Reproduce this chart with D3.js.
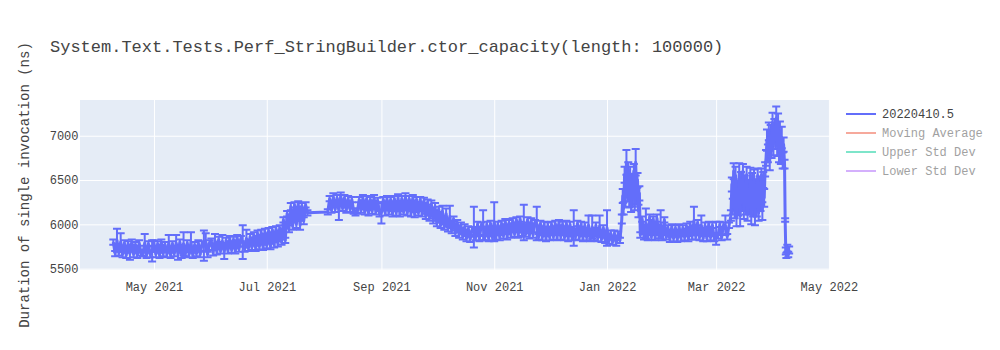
<!DOCTYPE html>
<html>
<head>
<meta charset="utf-8">
<script src="https://cdn.jsdelivr.net/npm/d3@7"></script>
<style>
  body { margin: 0; background: #fff; }
  svg { display: block; }
</style>
</head>
<body>
<div id="container"></div>
<script>
/* CONSTANTS AND GLOBALS */
const width = 1000,
  height = 350,
  margin = { top: 100, bottom: 80, left: 80, right: 170 };
const FONT = "'Liberation Mono', 'Courier New', monospace";
const TEXT = "#444";

/* DATA */
const chartTitle = "System.Text.Tests.Perf_StringBuilder.ctor_capacity(length: 100000)";
const yTitle = "Duration of single invocation (ns)";
const legendNames = ["20220410.5", "Moving Average", "Upper Std Dev", "Lower Std Dev"];
const yTicks = [5500, 6000, 6500, 7000];
const xRange = ["2021-03-22", "2022-05-01T14:00"];
const yRange = [5485, 7403];

const runDates = [
  // Apr 2021
  "2021-04-09","2021-04-10","2021-04-11","2021-04-12","2021-04-13","2021-04-14","2021-04-15","2021-04-16","2021-04-17","2021-04-18",
  "2021-04-19","2021-04-20","2021-04-21","2021-04-22","2021-04-23","2021-04-24","2021-04-25","2021-04-26","2021-04-27","2021-04-28",
  "2021-04-29","2021-04-30",
  // May 2021
  "2021-05-01","2021-05-02","2021-05-03","2021-05-04","2021-05-05","2021-05-06","2021-05-07","2021-05-08","2021-05-09","2021-05-10",
  "2021-05-11","2021-05-12","2021-05-13","2021-05-14","2021-05-15","2021-05-16","2021-05-17","2021-05-18","2021-05-19","2021-05-20",
  "2021-05-21","2021-05-22","2021-05-23","2021-05-24","2021-05-25","2021-05-26","2021-05-27","2021-05-28","2021-05-29","2021-05-30",
  "2021-05-31",
  // Jun 2021
  "2021-06-01","2021-06-02","2021-06-03","2021-06-04","2021-06-05","2021-06-06","2021-06-07","2021-06-08","2021-06-09","2021-06-10",
  "2021-06-11","2021-06-12","2021-06-13","2021-06-14","2021-06-15","2021-06-16","2021-06-17","2021-06-18","2021-06-19","2021-06-20",
  "2021-06-21","2021-06-22","2021-06-23","2021-06-24","2021-06-25","2021-06-26","2021-06-27","2021-06-28","2021-06-29","2021-06-30",
  // Jul 2021
  "2021-07-01","2021-07-02","2021-07-03","2021-07-04","2021-07-05","2021-07-06","2021-07-07","2021-07-08","2021-07-09","2021-07-10",
  "2021-07-11","2021-07-12","2021-07-13","2021-07-14","2021-07-15","2021-07-16","2021-07-17","2021-07-18","2021-07-19","2021-07-20",
  "2021-07-21","2021-07-22","2021-07-23",
  // Aug 2021
  "2021-08-03","2021-08-04","2021-08-05","2021-08-06","2021-08-07","2021-08-08","2021-08-09","2021-08-10","2021-08-11","2021-08-12",
  "2021-08-13","2021-08-14","2021-08-15","2021-08-16","2021-08-17","2021-08-18","2021-08-19","2021-08-20","2021-08-21","2021-08-22",
  "2021-08-23","2021-08-24","2021-08-25","2021-08-26","2021-08-27","2021-08-28","2021-08-29","2021-08-30","2021-08-31",
  // Sep 2021
  "2021-09-01","2021-09-02","2021-09-03","2021-09-04","2021-09-05","2021-09-06","2021-09-07","2021-09-08","2021-09-09","2021-09-10",
  "2021-09-11","2021-09-12","2021-09-13","2021-09-14","2021-09-15","2021-09-16","2021-09-17","2021-09-18","2021-09-19","2021-09-20",
  "2021-09-21","2021-09-22","2021-09-23","2021-09-24","2021-09-25","2021-09-26","2021-09-27","2021-09-28","2021-09-29","2021-09-30",
  // Oct 2021
  "2021-10-01","2021-10-02","2021-10-03","2021-10-04","2021-10-05","2021-10-06","2021-10-07","2021-10-08","2021-10-09","2021-10-10",
  "2021-10-11","2021-10-12","2021-10-13","2021-10-14","2021-10-15","2021-10-16","2021-10-17","2021-10-18","2021-10-19","2021-10-20",
  "2021-10-21","2021-10-22","2021-10-23","2021-10-24","2021-10-25","2021-10-26","2021-10-27","2021-10-28","2021-10-29","2021-10-30",
  "2021-10-31",
  // Nov 2021
  "2021-11-01","2021-11-02","2021-11-03","2021-11-04","2021-11-05","2021-11-06","2021-11-07","2021-11-08","2021-11-09","2021-11-10",
  "2021-11-11","2021-11-12","2021-11-13","2021-11-14","2021-11-15","2021-11-16","2021-11-17","2021-11-18","2021-11-19","2021-11-20",
  "2021-11-21","2021-11-22","2021-11-23","2021-11-24","2021-11-25","2021-11-26","2021-11-27","2021-11-28","2021-11-29","2021-11-30",
  // Dec 2021
  "2021-12-01","2021-12-02","2021-12-03","2021-12-04","2021-12-05","2021-12-06","2021-12-07","2021-12-08","2021-12-09","2021-12-10",
  "2021-12-11","2021-12-12","2021-12-13","2021-12-14","2021-12-15","2021-12-16","2021-12-17","2021-12-18","2021-12-19","2021-12-20",
  "2021-12-21","2021-12-22","2021-12-23","2021-12-24","2021-12-25","2021-12-26","2021-12-27","2021-12-28","2021-12-29","2021-12-30",
  "2021-12-31",
  // Jan 2022
  "2022-01-01","2022-01-02","2022-01-03","2022-01-04","2022-01-05","2022-01-06","2022-01-07","2022-01-08",
  "2022-01-09","2022-01-09T12:00","2022-01-10","2022-01-10T12:00","2022-01-11","2022-01-11T12:00","2022-01-12","2022-01-12T12:00",
  "2022-01-13","2022-01-13T12:00","2022-01-14","2022-01-14T12:00","2022-01-15","2022-01-15T12:00","2022-01-16","2022-01-16T12:00",
  "2022-01-17","2022-01-17T12:00","2022-01-18","2022-01-18T12:00",
  "2022-01-19","2022-01-20","2022-01-21","2022-01-22","2022-01-23","2022-01-24","2022-01-25","2022-01-26","2022-01-27","2022-01-28",
  "2022-01-29","2022-01-30","2022-01-31",
  // Feb 2022
  "2022-02-01","2022-02-02","2022-02-03","2022-02-04","2022-02-05","2022-02-06","2022-02-07","2022-02-08","2022-02-09","2022-02-10",
  "2022-02-11","2022-02-12","2022-02-13","2022-02-14","2022-02-15","2022-02-16","2022-02-17","2022-02-18","2022-02-19","2022-02-20",
  "2022-02-21","2022-02-22","2022-02-23","2022-02-24","2022-02-25","2022-02-26","2022-02-27","2022-02-28",
  // Mar 2022
  "2022-03-01","2022-03-02","2022-03-03","2022-03-04","2022-03-05","2022-03-06","2022-03-07","2022-03-08",
  "2022-03-09","2022-03-09T12:00","2022-03-10","2022-03-10T12:00","2022-03-11","2022-03-11T12:00","2022-03-12","2022-03-12T12:00",
  "2022-03-13","2022-03-13T12:00","2022-03-14","2022-03-14T12:00","2022-03-15","2022-03-15T12:00","2022-03-16","2022-03-16T12:00",
  "2022-03-17","2022-03-17T12:00","2022-03-18","2022-03-18T12:00","2022-03-19","2022-03-19T12:00","2022-03-20","2022-03-20T12:00",
  "2022-03-21","2022-03-21T12:00","2022-03-22","2022-03-22T12:00","2022-03-23","2022-03-23T12:00","2022-03-24","2022-03-24T12:00",
  "2022-03-25","2022-03-25T12:00","2022-03-26","2022-03-26T12:00","2022-03-27","2022-03-27T12:00",
  "2022-03-28","2022-03-28T12:00","2022-03-29","2022-03-29T12:00","2022-03-30","2022-03-30T12:00","2022-03-31","2022-03-31T12:00",
  // Apr 2022
  "2022-04-01","2022-04-01T12:00","2022-04-02","2022-04-02T12:00","2022-04-03","2022-04-03T12:00","2022-04-04","2022-04-04T12:00",
  "2022-04-05","2022-04-05T12:00","2022-04-06","2022-04-06T12:00","2022-04-07",
  "2022-04-07T08:00","2022-04-07T16:00","2022-04-08","2022-04-08T12:00","2022-04-09","2022-04-09T12:00"
];

const durations = [
  // Apr 2021
  5800,5670,5820,5680,5800,5660,5790,5650,5780,5670, 5800,5660,5770,5650,5790,5680,5670,5790,5650,5780, 5660,5700,
  // May 2021
  5790,5660,5780,5650,5800,5670,5770,5660,5790,5650, 5780,5670,5790,5660,5800,5650,5780,5670,5790,5660,
  5800,5650,5770,5670,5790,5660,5780,5760,5800,5660, 5790,
  // Jun 2021
  5810,5680,5820,5690,5830,5700,5810,5690,5820,5700, 5840,5710,5830,5700,5850,5720,5840,5800,5720,5840,
  5730,5860,5740,5880,5730,5900,5750,5910,5740,5920,
  // Jul 2021
  5760,5930,5750,5940,5770,5950,5780,5960,5800,6050, 5820,6120,5950,6200,5980,6220,6000,6230,5990,6210, 6040,6220,6130,
  // Aug 2021
  6140,6290,6160,6310,6170,6300,6150,6320,6180,6300, 6160,6290,6170,6280,6150,6130,6150,6280,6160,6300,
  6140,6290,6130,6280,6150,6300,6140,6270,6120,
  // Sep 2021
  6130,6280,6130,6290,6140,6280,6120,6290,6130,6300, 6120,6290,6140,6310,6130,6290,6120,6300,6110,6280,
  6130,6280,6120,6270,6090,6250,6070,6230,6040,6200,
  // Oct 2021
  6010,6170,5990,6150,5970,6120,5950,6090,5930,6060, 5900,6020,5880,5990,5860,5970,5840,5950,5830,5940,
  5970,5850,6000,5840,5990,5990,5850,6000,5840,6010, 5850,
  // Nov 2021
  6030,5860,6000,5850,6010,5870,6030,5860,6020,5880, 6040,5890,6050,5880,6060,5900,6020,5890,6050,5870,
  6040,5880,6020,6010,5860,6010,5850,6000,5840,5990,
  // Dec 2021
  5850,6000,5860,6010,5850,6020,5860,6000,5850,6010, 5840,6000,5850,5960,5860,6010,5850,6000,5840,5990,
  5850,5990,5840,5970,5850,5990,5840,5980,5830,5960, 5820,
  // Jan 2022
  5960,5810,5900,5800,5900,5790,5890,5820,
  6060,6320,6180,6560,6300,6700,6350,6620,6280,6550, 6220,6480,6300,6600,6250,6700,6320,6500,6150,6350,
  5880,6060,5860,6010,5850,6080,5860,6060,5850,6070, 5870,6000,5850,
  // Feb 2022
  6050,5860,5960,5830,5970,5840,5960,5830,5970,5840, 5960,5850,5980,5840,6000,5860,6040,5860,6020,5850,
  5990,5840,5990,5840,6000,5850,5990,5840,
  // Mar 2022
  5900,5870,6000,5850,5990,5990,5860,5990,
  6100,6450,6200,6600,6150,6550,6080,6400,6200,6580, 6100,6500,6250,6600,6150,6450,6220,6560,6120,6400,
  6200,6550,6100,6480,6180,6520,6090,6420,6200,6550, 6130,6450,6250,6560,6150,6500,6300,6620,
  6750,6950,6800,7050,6720,7000,6850,7150,
  // Apr 2022
  6900,7100,6950,7200,6880,7150,6820,7050,6780,6980, 6720,6900,6680,
  6050,5700,5650,5730,5660,5710
];

const stdErrors = [
  // Apr 2021
  30,30,130,30,100,30,30,30,30,70, 30,30,30,30,30,30,30,100,30,30, 30,120,
  // May 2021
  30,30,30,30,30,30,30,30,90,30, 30,30,90,60,30,30,130,30,30,30,
  110,30,30,30,30,30,30,170,100,30, 30,
  // Jun 2021
  30,30,70,30,30,30,70,80,30,30, 30,30,30,30,30,30,30,190,30,100,
  30,30,30,30,30,30,30,30,30,30,
  // Jul 2021
  30,30,30,30,30,30,30,30,30,30, 30,30,40,40,40,30,40,30,50,30, 40,30,30,
  // Aug 2021
  30,30,30,40,30,30,100,40,30,30, 30,30,30,30,30,30,30,30,30,30,
  30,30,30,30,30,30,30,30,30,
  // Sep 2021
  120,30,30,30,30,30,30,30,30,40, 30,30,30,40,30,30,30,30,30,30,
  30,30,30,30,30,30,30,40,30,40,
  // Oct 2021
  30,30,30,60,30,60,30,120,30,30, 30,30,30,30,30,30,30,30,30,30,
  230,30,30,30,30,170,30,30,30,30, 30,
  // Nov 2021
  220,30,30,30,30,30,30,30,30,30, 30,30,30,30,30,30,200,30,30,30,
  30,30,30,190,30,30,30,30,30,30,
  // Dec 2021
  30,30,30,30,30,30,30,30,30,30, 30,30,30,200,30,30,30,30,30,30,
  30,110,30,130,30,30,30,120,30,30, 30,
  // Jan 2022
  200,30,30,30,30,30,30,30,
  50,80,70,90,100,140,90,80,90,100, 80,90,100,80,90,150,90,80,70,80,
  30,30,30,170,30,30,30,30,30,40, 30,160,30,
  // Feb 2022
  30,30,30,30,30,30,30,30,30,30, 30,30,30,30,30,30,160,30,30,30,
  110,30,30,30,30,30,30,30,
  // Mar 2022
  130,30,30,30,30,110,30,30,
  60,80,90,90,80,100,100,90,100,110, 120,90,100,80,90,100,110,90,80,100,
  90,90,100,100,90,100,100,90,110,80, 90,90,100,70,100,90,100,80,
  90,120,100,100,110,120,100,110,
  // Apr 2022
  120,90,100,130,110,100,120,110,100,120, 90,80,50,
  20,40,30,40,30,40
];

const parseDay = d3.utcParse("%Y-%m-%d"),
  parseStamp = d3.utcParse("%Y-%m-%dT%H:%M");
const parseDate = s => (s.length > 10 ? parseStamp(s) : parseDay(s));

const data = runDates.map((d, i) => ({
  date: parseDate(d),
  value: durations[i],
  err: stdErrors[i]
}));

/* SCALES */
const xScale = d3.scaleUtc()
  .domain(xRange.map(parseDate))
  .range([margin.left, width - margin.right]);

const yScale = d3.scaleLinear()
  .domain(yRange)
  .range([height - margin.bottom, margin.top]);

/* SVG */
const svg = d3.select("#container")
  .append("svg")
  .attr("width", width)
  .attr("height", height)
  .style("font-family", FONT);

svg.append("rect")
  .attr("x", margin.left)
  .attr("y", margin.top)
  .attr("width", width - margin.left - margin.right)
  .attr("height", height - margin.top - margin.bottom)
  .attr("fill", "#E5ECF6");

const monthTicks = d3.utcMonth.every(2);

// grid
svg.append("g")
  .attr("transform", `translate(0,${height - margin.bottom})`)
  .call(d3.axisBottom(xScale).ticks(monthTicks).tickSize(-(height - margin.top - margin.bottom)).tickFormat(""))
  .call(g => g.select(".domain").remove())
  .call(g => g.selectAll("line").attr("stroke", "#fff").attr("stroke-width", 1));

svg.append("g")
  .attr("transform", `translate(${margin.left},0)`)
  .call(d3.axisLeft(yScale).tickValues(yTicks).tickSize(-(width - margin.left - margin.right)).tickFormat(""))
  .call(g => g.select(".domain").remove())
  .call(g => g.selectAll("line").attr("stroke", "#fff").attr("stroke-width", 1));

// axes labels
svg.append("g")
  .attr("transform", `translate(0,${height - margin.bottom})`)
  .call(d3.axisBottom(xScale).ticks(monthTicks).tickFormat(d3.utcFormat("%b %Y")).tickSize(0).tickPadding(12.5))
  .call(g => g.select(".domain").remove())
  .call(g => g.selectAll("text").attr("fill", TEXT).style("font-size", "12px").style("font-family", FONT));

svg.append("g")
  .attr("transform", `translate(${margin.left},0)`)
  .call(d3.axisLeft(yScale).tickValues(yTicks).tickFormat(d3.format("d")).tickSize(0).tickPadding(1.5))
  .call(g => g.select(".domain").remove())
  .call(g => g.selectAll("text").attr("fill", TEXT).style("font-size", "12px").style("font-family", FONT));

/* ERROR BARS */
const traceColor = "#636efa";
const capHalf = 4;
const bars = svg.append("g")
  .attr("stroke", traceColor)
  .attr("stroke-width", 2)
  .attr("fill", "none");

bars.selectAll("path")
  .data(data)
  .join("path")
  .attr("d", d => {
    const cx = xScale(d.date),
      top = yScale(d.value + d.err),
      bot = yScale(d.value - d.err);
    return `M${cx - capHalf},${top}h${capHalf * 2}M${cx},${top}V${bot}M${cx - capHalf},${bot}h${capHalf * 2}`;
  });

/* LINE */
const line = d3.line()
  .x(d => xScale(d.date))
  .y(d => yScale(d.value));

// the real series has several runs a day, so its zigzag reads as a solid band
svg.append("path")
  .datum(data)
  .attr("fill", "none")
  .attr("stroke", traceColor)
  .attr("stroke-width", 3)
  .attr("stroke-linejoin", "round")
  .attr("d", line);

/* TITLES */
svg.append("text")
  .attr("x", 50)
  .attr("y", 52)
  .attr("fill", TEXT)
  .style("font-size", "17px")
  .text(chartTitle);

svg.append("text")
  .attr("transform", `translate(28.5,${(margin.top + height - margin.bottom) / 2}) rotate(-90)`)
  .attr("text-anchor", "middle")
  .attr("fill", TEXT)
  .style("font-size", "14px")
  .text(yTitle);

/* LEGEND */
const legendColors = [traceColor, "#EF553B", "#00CC96", "#AB63FA"];
const legend = svg.append("g")
  .attr("transform", "translate(846,114)");

const item = legend.selectAll("g")
  .data(legendNames)
  .join("g")
  .attr("transform", (d, i) => `translate(0,${i * 19})`)
  .attr("opacity", (d, i) => (i === 0 ? 1 : 0.5));

item.append("line")
  .attr("x1", 0)
  .attr("x2", 30)
  .attr("stroke", (d, i) => legendColors[i])
  .attr("stroke-width", 2);

item.append("text")
  .attr("x", 36)
  .attr("y", 4.3)
  .attr("fill", TEXT)
  .style("font-size", "12px")
  .text(d => d);
</script>
</body>
</html>
